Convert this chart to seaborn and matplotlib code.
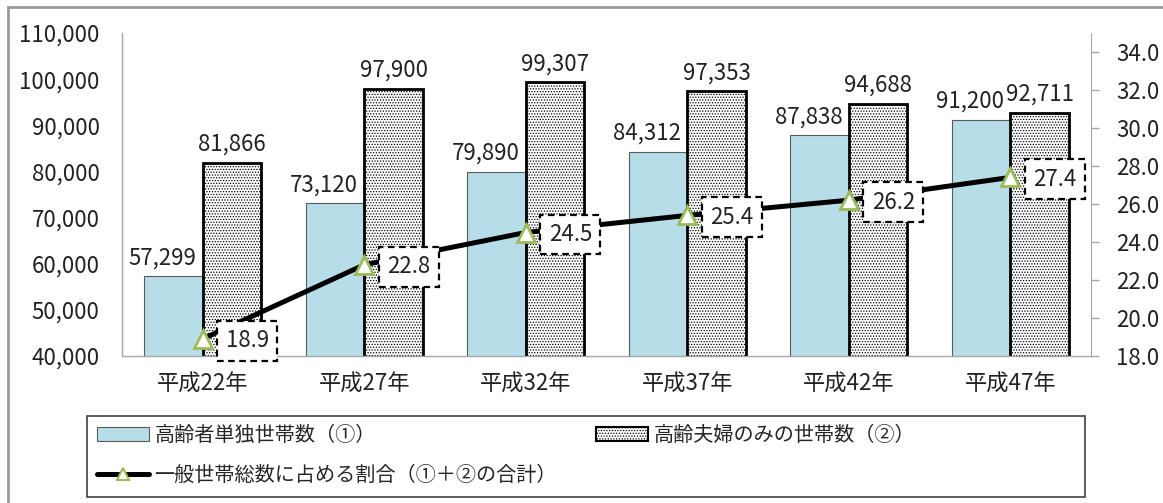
import numpy as np
import pandas as pd
import matplotlib
matplotlib.use("Agg")
import matplotlib.pyplot as plt
import seaborn as sns
from matplotlib.patches import Patch, Rectangle
from matplotlib.lines import Line2D
from matplotlib.ticker import FuncFormatter, MultipleLocator

# data
years = ["平成22年", "平成27年", "平成32年", "平成37年", "平成42年", "平成47年"]
single = [57299, 73120, 79890, 84312, 87838, 91200]
couple = [81866, 97900, 99307, 97353, 94688, 92711]
ratio = [18.9, 22.8, 24.5, 25.4, 26.2, 27.4]
series = ["高齢者単独世帯数（①）", "高齢夫婦のみの世帯数（②）"]
line_name = "一般世帯総数に占める割合（①＋②の合計）"

sns.set_style("white")
plt.rcParams["font.family"] = ["Noto Sans CJK JP", "DejaVu Sans"]
plt.rcParams["hatch.linewidth"] = 0.6

df = pd.DataFrame({
    "year": years * 2,
    "series": [series[0]] * len(years) + [series[1]] * len(years),
    "value": single + couple,
})

W, H = 1163, 503
fig = plt.figure(figsize=(W / 100, H / 100), dpi=100)
ax = fig.add_axes([122 / W, 1 - 356 / H, (1091 - 122) / W, (356 - 33) / H])

blue = "#B7DEE8"
sns.barplot(data=df, x="year", y="value", hue="series", hue_order=series,
            palette=[blue, "white"], saturation=1, width=0.725,
            legend=False, ax=ax)

for p in ax.containers[0]:
    p.set_edgecolor("#5a5a5a")
    p.set_linewidth(0.8)
for p in ax.containers[1]:
    p.set_facecolor("white")
    p.set_hatch("......")
    p.set_edgecolor("black")
    p.set_linewidth(2)

fs = 16
labs = ax.bar_label(ax.containers[0], labels=[f"{v:,}" for v in single],
                    padding=5, fontsize=fs, color="#222222")
for a in labs:
    a.xyann = (-8, 5)
ax.bar_label(ax.containers[1], labels=[f"{v:,}" for v in couple],
             padding=5, fontsize=fs, color="#222222")

ax.set_ylim(40000, 110000)
ax.yaxis.set_major_locator(MultipleLocator(10000))
ax.yaxis.set_major_formatter(FuncFormatter(lambda v, p: f"{int(v):,}"))
ax.set_xlabel("")
ax.set_ylabel("")
ax.tick_params(axis="y", length=0, pad=16, labelsize=fs, labelcolor="#222222")
ax.tick_params(axis="x", length=0, pad=12, labelsize=fs, labelcolor="#222222")
for s in ["top", "right"]:
    ax.spines[s].set_visible(False)
for s in ["left", "bottom"]:
    ax.spines[s].set_color("#a6a6a6")
    ax.spines[s].set_linewidth(1)

ax2 = ax.twinx()
xpos = np.arange(len(years))
sns.lineplot(x=xpos, y=ratio, color="black", lw=3.6, marker="^",
             markersize=13, markerfacecolor="white", markeredgecolor="#9BBB59",
             markeredgewidth=2, ax=ax2)
ax.set_xlim(-0.5, len(years) - 0.5)
ax2.set_ylim(18, 35)
ax2.set_yticks(np.arange(18, 35, 2))
ax2.yaxis.set_major_formatter(FuncFormatter(lambda v, p: f"{v:.1f}"))
ax2.tick_params(axis="y", length=6, width=1, color="#a6a6a6", pad=12,
                labelsize=fs, labelcolor="#222222")
for s in ["top", "left", "bottom"]:
    ax2.spines[s].set_visible(False)
ax2.spines["right"].set_color("#a6a6a6")

for x, v in zip(xpos, ratio):
    ax2.annotate(f"{v:.1f}", (x, v), xytext=(23, -2), textcoords="offset pixels",
                 ha="left", va="center", fontsize=fs, color="#222222",
                 bbox=dict(boxstyle="square,pad=0.38", fc="white", ec="black",
                           ls=(0, (3, 2)), lw=1.6))

# outer chart frame
fig.add_artist(Rectangle((8 / W, -0.2), 1.2, (1 - 7 / H) + 0.2,
                         transform=fig.transFigure, fill=False,
                         ec="#9a9a9a", lw=2))

# legend box
fig.add_artist(Rectangle((87 / W, 1 - 497 / H), (1085 - 87) / W, (497 - 416) / H,
                         transform=fig.transFigure, fill=False,
                         ec="#404040", lw=1.2))
h_single = Patch(facecolor=blue, edgecolor="#5a5a5a", lw=0.8)
h_line = Line2D([], [], color="black", lw=3.6, marker="^", markersize=9,
                markerfacecolor="white", markeredgecolor="#9BBB59", markeredgewidth=1.5)
h_couple = Patch(facecolor="white", edgecolor="black", hatch="......", lw=1.5)
leg_kw = dict(loc="upper left", frameon=False, fontsize=14.5, handlelength=2.6,
              handleheight=0.7, handletextpad=0.25, labelspacing=0.95,
              borderaxespad=0, borderpad=0)
fig.legend([h_single, h_line], [series[0], line_name],
           bbox_to_anchor=(97 / W, 1 - 425 / H), **leg_kw)
fig.legend([h_couple], [series[1]],
           bbox_to_anchor=(596 / W, 1 - 425 / H), **leg_kw)

fig.savefig("out.png", dpi=100)
